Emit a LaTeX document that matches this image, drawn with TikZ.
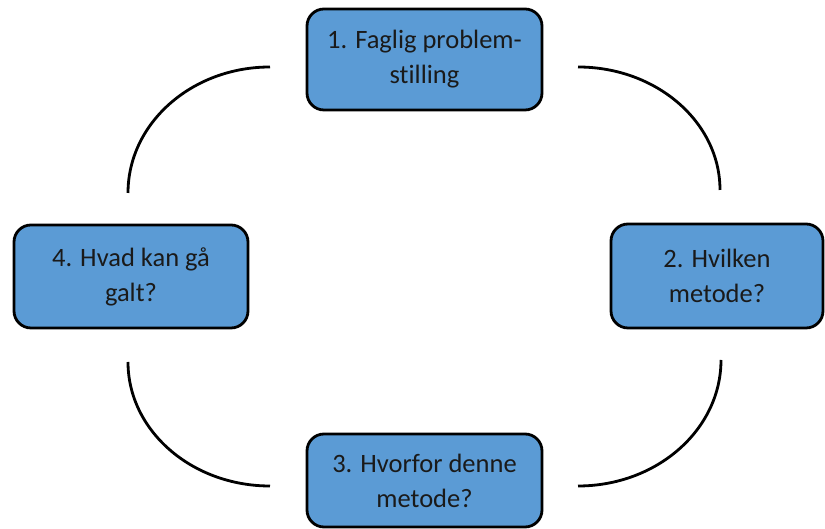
\documentclass[tikz,border=0pt]{standalone}
\usepackage{fontspec}
\setmainfont[RawFeature={-liga}]{Carlito}
\definecolor{boxblue}{HTML}{5B9BD5}
\definecolor{txt}{HTML}{1A1A1A}
\begin{document}
\begin{tikzpicture}[x=1pt,y=1pt,
  stepbox/.style={draw=black, line width=2.8pt, fill=boxblue, rounded corners=17pt,
    inner sep=0pt, align=center, text=txt,
    font=\fontsize{26.5}{35}\selectfont},
  arcline/.style={draw=black, line width=2.8pt}]
\useasboundingbox (0,0) rectangle (825,529);
\node[stepbox, minimum width=235, minimum height=101] (n1) at (424.5,469.5) {1. Faglig problem-\\stilling};
\node[stepbox, minimum width=212, minimum height=104] (n2) at (717,253) {2. Hvilken\\metode?};
\node[stepbox, minimum width=235, minimum height=93] (n3) at (424.5,48.5) {3. Hvorfor denne\\metode?};
\node[stepbox, minimum width=234, minimum height=103] (n4) at (131,252.5) {4. Hvad kan gå\\galt?};
\coordinate (tl) at (270,462);
\coordinate (tr) at (578,462);
\coordinate (br) at (721,169);
\coordinate (bl) at (128,167);
\draw[arcline] (tl) arc[start angle=90, end angle=180, x radius=142, y radius=126];
\draw[arcline] (tr) arc[start angle=90, end angle=0, x radius=142, y radius=123];
\draw[arcline] (br) arc[start angle=0, end angle=-90, x radius=143, y radius=126];
\draw[arcline] (bl) arc[start angle=180, end angle=270, x radius=142, y radius=124];
\end{tikzpicture}
\end{document}
